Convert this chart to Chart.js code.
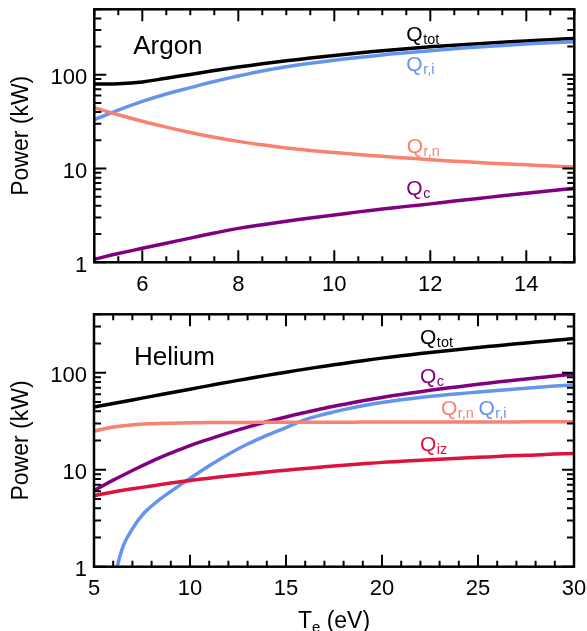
<!DOCTYPE html>
<html><head><meta charset="utf-8">
<script src="https://cdn.jsdelivr.net/npm/chart.js@4/dist/chart.umd.min.js"></script>
<style>
html,body{margin:0;padding:0;background:#fff;}
#wrap{position:relative;width:587px;height:631px;overflow:hidden;}
.box{position:absolute;left:0;width:587px;}
</style></head><body>
<div id="wrap">
<div class="box" style="top:0;height:300px"><canvas id="top"></canvas></div>
<div class="box" style="top:300px;height:331px"><canvas id="bot"></canvas></div>
</div>
<script>
// ---------- data ----------
const argonTe   = [5, 5.5, 6, 6.5, 7, 7.5, 8, 8.5, 9, 9.5, 10, 10.5, 11, 11.5, 12, 12.5, 13, 13.5, 14, 14.5, 15];
const argonQtot = [80, 80.5, 84, 92, 101, 111, 121, 131, 141, 151, 161, 171, 181, 190, 199, 207, 215, 223, 230, 237, 244];
const argonQri  = [33.3, 42, 52, 62.5, 73, 85, 97, 110, 122, 133, 143, 153, 163, 172, 181, 190, 198, 206, 213, 220, 226];
const argonQrn  = [44.5, 37.5, 32, 27.7, 24.3, 21.6, 19.5, 17.9, 16.6, 15.6, 14.8, 14.1, 13.5, 12.95, 12.45, 12.0, 11.6, 11.25, 10.95, 10.65, 10.4];
const argonQc   = [1.08, 1.24, 1.41, 1.6, 1.81, 2.05, 2.3, 2.51, 2.74, 2.97, 3.2, 3.45, 3.7, 3.95, 4.2, 4.5, 4.8, 5.12, 5.45, 5.8, 6.15];

const heliumTe   = [5, 6, 7, 8, 9, 10, 11, 12, 13, 14, 15, 16, 17, 18, 19, 20, 21, 22, 23, 24, 25, 26, 27, 28, 29, 30];
const heliumQtot = [44.2, 48.1, 52.4, 57.0, 62.1, 67.6, 73.6, 80.0, 86.7, 93.8, 101.2, 108.9, 116.7, 124.7, 133.0, 141.3, 149.3, 157.4, 165.6, 173.8, 182.0, 190.1, 198.6, 207.0, 215.8, 224.9];
const heliumQc   = [6.1, 7.8, 9.8, 12.2, 14.8, 17.7, 20.7, 24.0, 27.5, 31.2, 35.0, 38.9, 43.0, 47.1, 51.3, 55.5, 59.6, 63.7, 67.8, 71.8, 75.9, 80.0, 84.1, 88.3, 92.5, 96.8];
const heliumQrn  = [25, 27.5, 29, 29.8, 30.2, 30.5, 30.6, 30.7, 30.75, 30.8, 30.8, 30.85, 30.9, 30.9, 30.95, 31, 31, 31, 31.05, 31.05, 31.1, 31.1, 31.1, 31.15, 31.15, 31.2];
const heliumQiz  = [5.4, 5.9, 6.35, 6.8, 7.3, 7.75, 8.18, 8.61, 9.04, 9.46, 9.89, 10.3, 10.7, 11.1, 11.5, 11.9, 12.2, 12.5, 12.8, 13.1, 13.4, 13.7, 14.0, 14.2, 14.5, 14.7];
const heliumTeRi = [6, 6.5, 7, 7.5, 8, 8.5, 9, 9.5, 10, 11, 12, 13, 14, 15, 16, 17, 18, 19, 20, 21, 22, 23, 24, 25, 26, 27, 28, 29, 30];
const heliumQri  = [0.68, 1.59, 2.46, 3.39, 4.22, 5.07, 5.96, 7.0, 8.13, 10.96, 14.45, 18.4, 22.6, 27.2, 32.9, 37.3, 41.6, 45.6, 49.3, 52.6, 55.6, 58.3, 60.8, 63.1, 65.6, 68.1, 70.5, 72.8, 75.2];

const argonXTicks  = [6, 8, 10, 12, 14];
const heliumXTicks = [5, 10, 15, 20, 25, 30];
const yTickLabels  = [1, 10, 100];

// ---------- styling ----------
const FONT = '"Liberation Sans", Arial, Helvetica, sans-serif';
const C = {black:'#000000', blue:'#6495ED', salmon:'#FA8072', purple:'#800080', crimson:'#DC143C'};

function pts(xs, ys){ return xs.map((x,i)=>({x:x, y:ys[i]})); }

const framePlugin = {
  id: 'frame',
  afterDatasetsDraw(chart, args, o) {
    const {ctx, chartArea:{left,right,top,bottom}, scales:{x,y}} = chart;
    ctx.save();
    ctx.strokeStyle = '#000';
    ctx.lineWidth = 2;
    ctx.beginPath();
    for (let v = o.xmin; v <= o.xmax + 1e-9; v += o.xMinorStep) {
      const px = x.getPixelForValue(v);
      const major = Math.abs(v / o.xMajorStep - Math.round(v / o.xMajorStep)) < 1e-6;
      const L = major ? 12 : 6;
      ctx.moveTo(px, bottom); ctx.lineTo(px, bottom - L);
      ctx.moveTo(px, top); ctx.lineTo(px, top + L);
    }
    for (let d = 1; d <= o.ymax; d *= 10) {
      for (let m = 1; m <= 9; m++) {
        const v = m * d;
        if (v > o.ymax + 1e-9) break;
        const py = y.getPixelForValue(v);
        const L = m === 1 ? 12 : 7;
        ctx.moveTo(left, py); ctx.lineTo(left + L, py);
        ctx.moveTo(right, py); ctx.lineTo(right - L, py);
      }
    }
    ctx.stroke();
    ctx.lineWidth = 2.5;
    ctx.strokeRect(left, top, right - left, bottom - top);

    ctx.textBaseline = 'alphabetic';
    ctx.textAlign = 'left';
    for (const a of o.labels) {
      const px = x.getPixelForValue(a.x), py = y.getPixelForValue(a.y);
      ctx.fillStyle = a.color;
      if (a.sub) {
        ctx.font = '21px ' + FONT;
        ctx.fillText(a.main, px, py);
        const w = ctx.measureText(a.main).width;
        ctx.font = '14.5px ' + FONT;
        ctx.fillText(a.sub, px + w + 0.5, py + 3);
      } else {
        ctx.font = '26px ' + FONT;
        ctx.fillText(a.main, px, py);
      }
    }
    if (o.xTitle) {
      const cx = (left + right) / 2;
      ctx.fillStyle = '#000';
      ctx.font = '23px ' + FONT;
      const wT = ctx.measureText('T').width;
      const wR = ctx.measureText(' (eV)').width;
      ctx.font = '15px ' + FONT;
      const wE = ctx.measureText('e').width;
      let sx = cx - (wT + wE + wR) / 2;
      const by = chart.height - 3;
      ctx.font = '23px ' + FONT;
      ctx.fillText('T', sx, by);
      ctx.font = '15px ' + FONT;
      ctx.fillText('e', sx + wT, by + 4);
      ctx.font = '23px ' + FONT;
      ctx.fillText(' (eV)', sx + wT + wE, by);
    }
    ctx.restore();
  }
};

function zeroPad(sc) { sc.paddingLeft = 0; sc.paddingRight = 0; sc.paddingTop = 0; sc.paddingBottom = 0; }

function makeChart(id, cfg) {
  return new Chart(document.getElementById(id), {
    type: 'line',
    data: {
      datasets: cfg.series.map(s => ({
        data: pts(s.x, s.y),
        borderColor: s.color,
        borderWidth: 3.5,
        pointRadius: 0,
        fill: false,
        tension: 0.4
      }))
    },
    options: {
      responsive: true,
      maintainAspectRatio: false,
      animation: false,
      devicePixelRatio: 1,
      layout: { padding: cfg.padding },
      plugins: { legend: { display: false }, tooltip: { enabled: false }, frame: cfg.frame },
      scales: {
        x: {
          type: 'linear', min: cfg.frame.xmin, max: cfg.frame.xmax,
          grid: { display: false, drawTicks: false },
          border: { display: false },
          ticks: { color: '#000', font: { family: FONT, size: 22 }, padding: 9, maxRotation: 0, autoSkip: false,
                   callback: v => String(v) },
          afterBuildTicks: sc => { sc.ticks = cfg.xTicks.map(v => ({ value: v })); },
          afterFit: sc => { sc.height = cfg.xh; zeroPad(sc); }
        },
        y: {
          type: 'logarithmic', min: 1, max: cfg.frame.ymax,
          grid: { display: false, drawTicks: false },
          border: { display: false },
          ticks: { color: '#000', font: { family: FONT, size: 22 }, padding: 7, labelOffset: 3.5, autoSkip: false,
                   callback: v => String(v) },
          afterBuildTicks: sc => { sc.ticks = yTickLabels.map(v => ({ value: v })); },
          afterFit: sc => { sc.width = cfg.yw; zeroPad(sc); },
          title: { display: true, text: 'Power (kW)', color: '#000', font: { family: FONT, size: 23 }, padding: { top: 8, bottom: 0 } }
        }
      }
    },
    plugins: [framePlugin]
  });
}

makeChart('top', {
  padding: { left: 0, right: 12.7, top: 9.3, bottom: 0 },
  yw: 94.3, xh: 37.7,
  xTicks: argonXTicks,
  series: [
    { x: argonTe, y: argonQc,   color: C.purple },
    { x: argonTe, y: argonQrn,  color: C.salmon },
    { x: argonTe, y: argonQri,  color: C.blue },
    { x: argonTe, y: argonQtot, color: C.black }
  ],
  frame: {
    xmin: 5, xmax: 15, xMinorStep: 0.5, xMajorStep: 2, ymax: 500, xTitle: false,
    labels: [
      { main: 'Argon', x: 5.81, y: 165, color: C.black },
      { main: 'Q', sub: 'tot', x: 11.5, y: 230, color: C.black },
      { main: 'Q', sub: 'r,i', x: 11.5, y: 109, color: C.blue },
      { main: 'Q', sub: 'r,n', x: 11.51, y: 14.6, color: C.salmon },
      { main: 'Q', sub: 'c',   x: 11.5, y: 5.24, color: C.purple }
    ]
  }
});

makeChart('bot', {
  padding: { left: 0, right: 13, top: 14.3, bottom: 0 },
  yw: 94, xh: 64.3,
  xTicks: heliumXTicks,
  series: [
    { x: heliumTe,   y: heliumQiz,  color: C.crimson },
    { x: heliumTe,   y: heliumQrn,  color: C.salmon },
    { x: heliumTeRi, y: heliumQri,  color: C.blue },
    { x: heliumTe,   y: heliumQc,   color: C.purple },
    { x: heliumTe,   y: heliumQtot, color: C.black }
  ],
  frame: {
    xmin: 5, xmax: 30, xMinorStep: 1, xMajorStep: 5, ymax: 400, xTitle: true,
    labels: [
      { main: 'Helium', x: 7.08, y: 119, color: C.black },
      { main: 'Q', sub: 'tot', x: 21.98, y: 196, color: C.black },
      { main: 'Q', sub: 'c',   x: 21.98, y: 77.5, color: C.purple },
      { main: 'Q', sub: 'r,n', x: 23.07, y: 37, color: C.salmon },
      { main: 'Q', sub: 'r,i', x: 25.02, y: 37, color: C.blue },
      { main: 'Q', sub: 'iz',  x: 21.98, y: 15.5, color: C.crimson }
    ]
  }
});
</script>
</body></html>
